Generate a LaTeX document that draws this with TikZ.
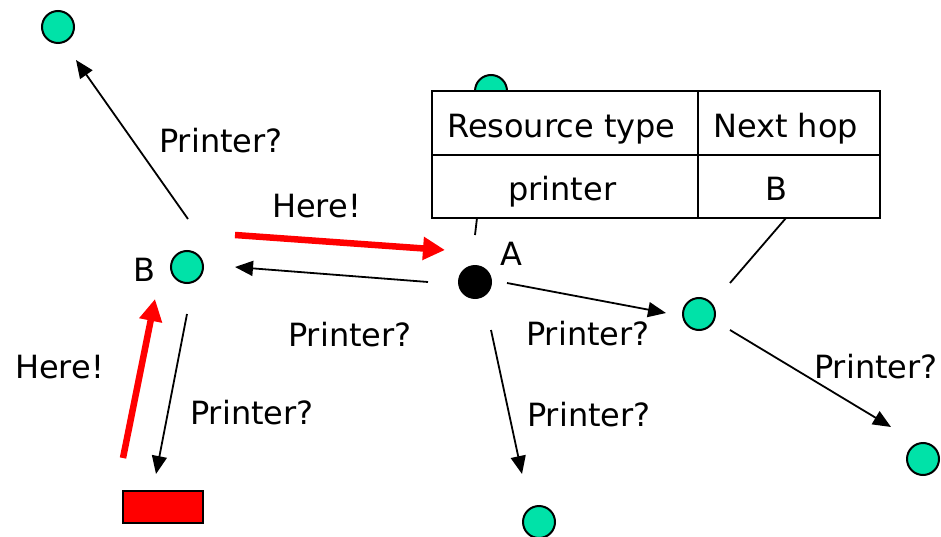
\documentclass[tikz,border=0pt]{standalone}
\usepackage{fontspec}
\setmainfont{DejaVu Sans}
\usetikzlibrary{arrows.meta}
\definecolor{nodegreen}{RGB}{0,226,168}
\begin{document}
\begin{tikzpicture}[x=1pt,y=-1pt,
  peer/.style={circle,draw=black,line width=2pt,fill=nodegreen,minimum size=32pt,inner sep=0pt},
  query/.style={draw=black,line width=1.8pt,-{Triangle[length=18pt,width=15pt]}},
  reply/.style={draw=red,line width=6.5pt,-{Triangle[length=22pt,width=22pt]}},
  plain/.style={draw=black,line width=1.8pt},
  lbl/.style={anchor=base west,inner sep=0pt,font=\fontsize{32}{38}\selectfont}]
\useasboundingbox (0,0) rectangle (941,537);
% nodes
\node[peer] (tl) at (58,27) {};
\node[peer] (top) at (491,91) {};
\node[peer] (b) at (187,267) {};
\node[circle,fill=black,minimum size=34pt,inner sep=0pt] (a) at (475,282) {};
\node[peer] (rm) at (699,314) {};
\node[peer] (fr) at (923,459) {};
\node[peer] (bot) at (539,522) {};
\node[draw=black,line width=2.2pt,fill=red,minimum width=80pt,minimum height=32pt,inner sep=0pt] (printer) at (163,507) {};
% arrow end coordinates
\coordinate (q1s) at (188,219); \coordinate (q1e) at (76,60);
\coordinate (r1s) at (235,235); \coordinate (r1e) at (445,250);
\coordinate (q2s) at (428,282); \coordinate (q2e) at (235,267);
\coordinate (r2s) at (123,458); \coordinate (r2e) at (155,299);
\coordinate (q3s) at (187,314); \coordinate (q3e) at (156,474);
\coordinate (q4s) at (507,283); \coordinate (q4e) at (666,313);
\coordinate (q5s) at (491,330); \coordinate (q5e) at (522,474);
\coordinate (q6s) at (730,330); \coordinate (q6e) at (891,427);
\coordinate (t1s) at (477,218); \coordinate (t1e) at (475,235);
\coordinate (t2s) at (786,218); \coordinate (t2e) at (730,283);
% connectors
\draw[query] (q1s) -- (q1e);
\draw[reply] (r1s) -- (r1e);
\draw[query] (q2s) -- (q2e);
\draw[reply] (r2s) -- (r2e);
\draw[query] (q3s) -- (q3e);
\draw[query] (q4s) -- (q4e);
\draw[query] (q5s) -- (q5e);
\draw[query] (q6s) -- (q6e);
\draw[plain] (t1s) -- (t1e);
\draw[plain] (t2s) -- (t2e);
% table
\draw[plain,line width=2pt,fill=white] (432,91) rectangle (880,218);
\draw[plain,line width=2pt] (432,155) -- (880,155);
\draw[plain,line width=2pt] (698,91) -- (698,218);
\node[lbl] (h1) at (447,138) {Resource type};
\node[lbl] (h2) at (713,138) {Next hop};
\node[lbl] (c1) at (508,201) {printer};
\node[lbl] (c2) at (765,201) {B};
% labels
\node[lbl] (la) at (500,265) {A};
\node[lbl] (lb) at (133,281) {B};
\node[lbl] (p1) at (159,153) {Printer?};
\node[lbl] (hr1) at (272,218) {Here!};
\node[lbl] (p2) at (288,346) {Printer?};
\node[lbl] (hr2) at (15,378) {Here!};
\node[lbl] (p3) at (190,424) {Printer?};
\node[lbl] (p4) at (526,345) {Printer?};
\node[lbl] (p5) at (527,426) {Printer?};
\node[lbl] (p6) at (814,378) {Printer?};
\end{tikzpicture}
\end{document}
